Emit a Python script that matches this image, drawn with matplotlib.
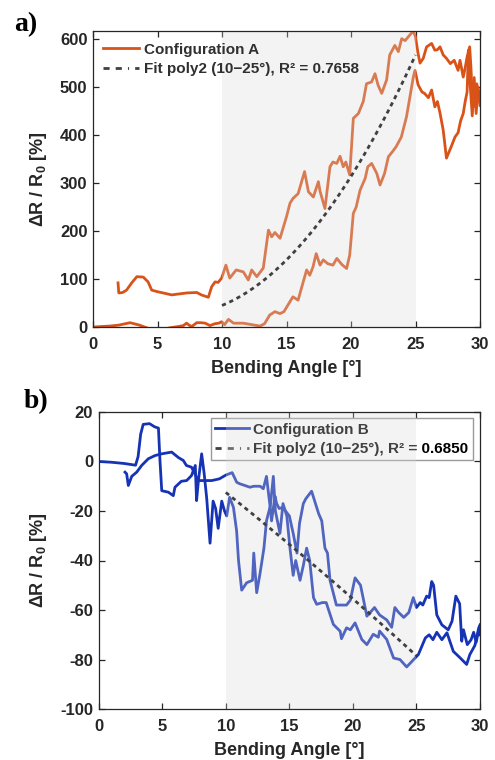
import numpy as np
import matplotlib
matplotlib.use("Agg")
import matplotlib.pyplot as plt
from matplotlib.lines import Line2D

# ---------------- data ----------------
shade_range = [10, 25]

# Configuration A : forward sweep (0 -> 30 deg)
A_fwd_x = [0, 0.6, 1.3, 2.0, 2.87, 3.6, 4.3, 5.0, 5.7, 6.1,
           6.6, 7.0, 7.25, 7.45, 7.65, 8.04, 8.4, 8.7, 9.07, 9.46,
           9.75, 9.97, 10.2, 10.5, 10.9, 11.3, 11.65, 12.3, 12.95, 13.3,
           13.7, 14.1, 14.5, 14.8, 15.27, 15.5, 15.9, 16.2, 16.56, 16.8,
           17.05, 17.3, 17.6, 17.85, 18.2, 18.6, 18.9, 19.3, 19.66, 19.9,
           20.18, 20.4, 20.7, 21.1, 21.3, 21.6, 22.0, 22.25, 22.6, 22.9,
           23.2, 23.5, 23.9, 24.3, 24.57, 24.83, 24.96, 25.2, 25.5, 25.7,
           26.0, 26.25, 26.5, 26.7, 26.9, 27.15, 27.4, 27.6, 27.8, 28.06,
           28.3, 28.5, 28.7, 28.85, 29.0, 29.1, 29.25, 29.4, 29.55, 29.7,
           29.85, 30.0]
A_fwd_y = [0, 1, 2, 4, 9, 4, -3, -3, -3, -1,
           1, 3, 8, 4, 1, 9, 9, 8, 3, 7,
           8, 11, 5, 16, 8, 8, 8, 5, 2, 7,
           25, 32, 28, 32, 53, 63, 56, 85, 119, 108,
           125, 153, 129, 140, 132, 129, 143, 130, 122, 150,
           237, 250, 285, 310, 334, 341, 320, 296, 320, 355,
           365, 376, 396, 438, 480, 521, 535, 505, 490, 487,
           478, 494, 459, 470, 446, 410, 352, 365, 378, 396,
           405, 430, 445, 470, 490, 577, 500, 440, 520, 445,
           500, 470]

# Configuration A : return sweep (30 -> 2 deg)
A_ret_x = [30.0, 29.9, 29.75, 29.6, 29.5, 29.4, 29.3, 29.2, 29.0, 28.85,
           28.7, 28.45, 28.3, 28.0, 27.7, 27.4, 27.15, 26.9, 26.7, 26.5,
           26.25, 25.86, 25.6, 25.35, 25.2, 25.0, 24.83, 24.44, 24.2, 23.93,
           23.67, 23.4, 23.0, 22.76, 22.38, 22.1, 21.86, 21.6, 21.2, 20.95,
           20.57, 20.18, 19.9, 19.6, 19.4, 19.15, 18.9, 18.6, 18.37, 17.98,
           17.6, 17.47, 17.08, 16.7, 16.4, 15.9, 15.5, 15.27, 15.0, 14.5,
           14.1, 13.85, 13.6, 13.2, 12.7, 12.3, 12.04, 11.65, 11.1, 10.6,
           10.3, 9.97, 9.7, 9.46, 9.2, 8.94, 8.4, 8.04, 7.26, 6.1,
           4.94, 4.55, 4.27, 3.9, 3.4, 3.0, 2.6, 2.3, 2.0, 1.94]
A_ret_y = [462, 480, 507, 470, 459, 480, 540, 584, 563, 540,
           521, 556, 535, 556, 549, 560, 567, 584, 578, 577,
           591, 584, 560, 550, 570, 605, 617, 605, 597, 601,
           574, 587, 567, 515, 487, 504, 528, 511, 507, 470,
           445, 435, 317, 344, 334, 356, 341, 344, 334, 247,
           283, 303, 271, 282, 324, 278, 268, 258, 230, 185,
           197, 188, 202, 123, 105, 119, 98, 115, 119, 102,
           129, 102, 93, 94, 84, 62, 67, 72, 71, 67,
           74, 77, 94, 104, 105, 92, 77, 72, 71, 92]

# Configuration B : forward sweep
B_fwd_x = [0, 1.0, 2.0, 2.9, 3.1, 3.3, 3.5, 4.0, 4.4, 4.7,
           4.82, 4.96, 5.48, 5.87, 6.0, 6.5, 6.92, 7.3, 7.6, 7.7,
           7.84, 8.1, 8.3, 8.5, 8.76, 9.0, 9.2, 9.4, 9.68, 9.9,
           10.07, 10.3, 10.6, 10.85, 11.0, 11.25, 11.64, 12.1, 12.2, 12.43,
           12.7, 13.0, 13.2, 13.5, 13.74, 13.9, 14.26, 14.5, 14.8, 15.05,
           15.3, 15.5, 15.84, 16.1, 16.36, 16.6, 16.9, 17.15, 17.6, 17.9,
           18.46, 19.0, 19.1, 19.5, 19.8, 20.17, 20.7, 21.1, 21.6, 22.0,
           22.1, 22.66, 23.2, 23.7, 24.23, 24.6, 25.15, 25.7, 26.0, 26.3,
           26.6, 27.0, 27.4, 27.9, 28.45, 28.95, 29.2, 29.6, 29.9, 30.0]
B_fwd_y = [0, -0.3, -0.8, -1.5, 2, 11, 15, 15.3, 14, 13.5,
           0.4, -11.8, -12.4, -13.8, -10.4, -8, -7.7, -5.7, -1.6, -15.8,
           -8, 3.1, -5, -15, -33, -16, -19, -27, -16, -20,
           -22, -14.5, -18.5, -28, -40, -52, -49, -48, -37, -53,
           -45, -35, -24, -18, -6, -20, -29, -17, -22, -35,
           -46, -40, -48, -42, -35, -40, -55, -57.7, -57, -57,
           -65.8, -68.6, -71.6, -67.2, -68, -65.2, -71.9, -74, -69.8, -71,
           -68.5, -71.9, -79.4, -80, -83, -81, -78, -71.3, -70, -72,
           -69, -72, -69.2, -76.7, -79.4, -82, -78, -74.3, -67.2, -66]

# Configuration B : return sweep
B_ret_x = [30.0, 29.9, 29.7, 29.5, 29.3, 29.0, 28.7, 28.56, 28.4, 28.1,
           27.8, 27.5, 27.0, 26.6, 26.35, 26.2, 26.0, 25.8, 25.5, 25.3,
           25.0, 24.75, 24.4, 24.0, 23.6, 23.3, 23.05, 22.66, 22.1, 21.7,
           21.1, 20.6, 20.17, 19.8, 19.5, 18.7, 18.2, 18.0, 17.8, 17.55,
           17.3, 16.75, 16.3, 16.1, 15.8, 15.6, 15.3, 15.0, 14.7, 14.5,
           14.2, 14.0, 13.87, 13.6, 13.48, 13.2, 12.95, 12.7, 12.2, 11.9,
           11.1, 10.86, 10.5, 10.0, 9.5, 8.9, 8.5, 7.84, 7.3, 6.9,
           6.66, 6.27, 5.74, 4.96, 4.43, 3.9, 3.38, 2.99, 2.6, 2.33,
           2.2, 2.07]
B_ret_y = [-70, -68, -73, -69, -72, -74, -68, -72.6, -57.5, -54.4,
           -64.5, -68, -66, -62, -50, -48.5, -55, -54.4, -58, -57,
           -59, -55, -61, -63, -61, -59, -67, -64, -62, -59,
           -62.5, -50, -47, -56, -58, -58, -48, -37, -35, -24,
           -21, -12, -15, -17, -25, -37, -29, -22, -20, -18.5,
           -19, -17, -14, -24, -18, -6, -11, -10, -10, -10.4,
           -9, -8.4, -4.5, -5.5, -7, -7.7, -7.7, -7.7, -2.3, -1.6,
           0.4, 1.6, 3.8, 3.1, 2.4, 1.1, -1.6, -4.3, -6, -9.7,
           -5, -4.3]

# quadratic fit coefficients (highest power first), fitted over 10-25 deg
fitA_coef = [1.58, -20.5, 92.0]
fitB_coef = [-0.02, -3.7, 26.5]
fitA_r2 = 0.7658
fitB_r2 = 0.6850

labelA = "Configuration A"
labelB = "Configuration B"

# ---------------- style ----------------
plt.rcParams['font.family'] = ['Liberation Sans', 'DejaVu Sans']
plt.rcParams['font.weight'] = 'bold'
plt.rcParams['axes.unicode_minus'] = False
plt.rcParams['mathtext.fontset'] = 'custom'
plt.rcParams['mathtext.rm'] = 'Liberation Sans:bold'
plt.rcParams['mathtext.it'] = 'Liberation Sans:bold'
plt.rcParams['mathtext.bf'] = 'Liberation Sans:bold'

TXT = '#262626'
ORANGE = '#D95319'
BLUE = '#1533B4'
FITC = '#404040'

fig = plt.figure(figsize=(4.95, 7.6), dpi=100)
axA = fig.add_axes([0.1879, 0.5697, 0.7818, 0.3895])
axB = fig.add_axes([0.1994, 0.0671, 0.7703, 0.3908])


def style_axis(ax, ylim, yticks):
    ax.set_xlim(0, 30)
    ax.set_ylim(*ylim)
    ax.set_xticks([0, 5, 10, 15, 20, 25, 30])
    ax.set_yticks(yticks)
    ax.tick_params(direction='in', length=4, width=0.9, top=True, right=True,
                   labelsize=12, colors=TXT)
    ax.tick_params(axis='x', pad=7)
    ax.tick_params(axis='y', pad=4)
    for s in ax.spines.values():
        s.set_color(TXT)
        s.set_linewidth(0.9)
    for lab in ax.get_xticklabels() + ax.get_yticklabels():
        lab.set_fontweight('bold')
    ax.set_xlabel('Bending Angle [°]', fontsize=13, fontweight='bold', color=TXT, labelpad=6)
    ax.set_ylabel('ΔR / R$_0$ [%]', fontsize=13, fontweight='bold', color=TXT, labelpad=8)


# ---------- panel a ----------
axA.plot(A_fwd_x, A_fwd_y, color=ORANGE, lw=2.0, zorder=2)
axA.plot(A_ret_x, A_ret_y, color=ORANGE, lw=2.0, zorder=2)
axA.axvspan(*shade_range, facecolor=(0.85, 0.85, 0.85), alpha=0.3, lw=0, zorder=2.2)
xf = np.linspace(shade_range[0], shade_range[1], 100)
axA.plot(xf, np.polyval(fitA_coef, xf), color=FITC, lw=2.0, dashes=(1.5, 1.4), zorder=2.3)
style_axis(axA, (0, 617), [0, 100, 200, 300, 400, 500, 600])

hA = [Line2D([], [], color=ORANGE, lw=2.0),
      Line2D([], [], color=FITC, lw=2.0, dashes=(2.2, 2.2, 2.2, 2.2, 0.4, 2.2))]
legA = axA.legend(hA, [labelA, 'Fit poly2 (10\u221225°), R² = %.4f' % fitA_r2],
                  loc='upper left', bbox_to_anchor=(0.013, 0.976), borderaxespad=0,
                  frameon=True, fancybox=False, framealpha=0.0,
                  edgecolor='#9a9a9a', handlelength=2.4, handletextpad=0.3,
                  labelspacing=0.35, borderpad=0.3, prop={'weight': 'bold', 'size': 11})
legA.get_frame().set_linewidth(1.0)
legA.set_zorder(5)
for t in legA.get_texts():
    t.set_color('#303030')

# ---------- panel b ----------
axB.plot(B_fwd_x, B_fwd_y, color=BLUE, lw=2.0, zorder=2)
axB.plot(B_ret_x, B_ret_y, color=BLUE, lw=2.0, zorder=2)
axB.axvspan(*shade_range, facecolor=(0.85, 0.85, 0.85), alpha=0.3, lw=0, zorder=2.2)
axB.plot(xf, np.polyval(fitB_coef, xf), color=FITC, lw=2.0, dashes=(1.5, 1.4), zorder=2.3)
style_axis(axB, (-100, 20), [-100, -80, -60, -40, -20, 0, 20])

hB = [Line2D([], [], color=BLUE, lw=2.0),
      Line2D([], [], color=FITC, lw=2.0, dashes=(2.2, 2.2, 2.2, 2.2, 0.4, 2.2))]
legB = axB.legend(hB, [labelB, 'Fit poly2 (10\u221225°), R² = %.4f' % fitB_r2],
                  loc='upper right', bbox_to_anchor=(0.982, 0.98), borderaxespad=0,
                  frameon=True, fancybox=False, framealpha=1.0,
                  facecolor='white', edgecolor='#9a9a9a', handlelength=2.2,
                  handletextpad=0.3, labelspacing=0.35, borderpad=0.3,
                  prop={'weight': 'bold', 'size': 11})
legB.get_frame().set_linewidth(1.0)
legB.set_zorder(2.15)
for t in legB.get_texts():
    t.set_color('black')

# panel labels
fig.text(0.028, 0.968, 'a)', fontsize=20, fontweight='bold', family='Liberation Serif',
         color='black', va='center', ha='left')
fig.text(0.048, 0.471, 'b)', fontsize=20, fontweight='bold', family='Liberation Serif',
         color='black', va='center', ha='left')

fig.savefig('out.png', dpi=100)
